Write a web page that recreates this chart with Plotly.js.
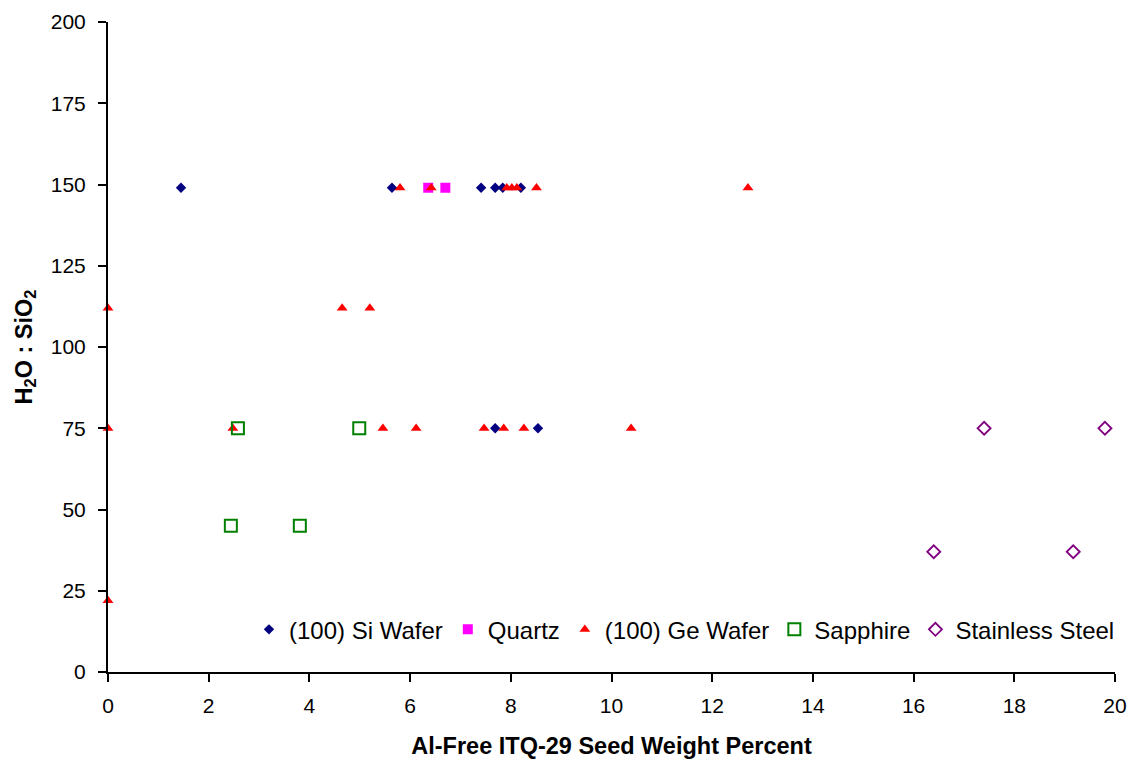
<!DOCTYPE html>
<html>
<head>
<meta charset="utf-8">
<script src="https://cdn.plot.ly/plotly-3.0.1.min.js"></script>
<style>html,body{margin:0;padding:0;background:#fff;}#chart{width:1134px;height:763px;}</style>
</head>
<body>
<div id="chart"></div>
<script>
const siX = [1.45, 5.64, 7.41, 7.69, 7.84, 8.20, 7.69, 8.54];
const siY = [149, 149, 149, 149, 149, 149, 75, 75];

const quartzX = [6.36, 6.70];
const quartzY = [149, 149];

const geX = [5.80, 6.42, 7.92, 8.02, 8.12, 8.51, 12.71, 0, 4.65, 5.20, 0, 2.48, 5.46, 6.12, 7.47, 7.86, 8.26, 10.39, 0];
const geY = [149, 149, 149, 149, 149, 149, 149, 112, 112, 112, 75, 75, 75, 75, 75, 75, 75, 75, 22];

const sapphireX = [2.58, 4.99, 2.44, 3.81];
const sapphireY = [75, 75, 45, 45];

const steelX = [17.40, 19.80, 16.40, 19.17];
const steelY = [75, 75, 37, 37];

const xTicks = [0, 2, 4, 6, 8, 10, 12, 14, 16, 18, 20];
const yTicks = [0, 25, 50, 75, 100, 125, 150, 175, 200];

const traces = [
  {name: '(100) Si Wafer', x: siX, y: siY, type: 'scatter', mode: 'markers', cliponaxis: false,
   marker: {symbol: 'diamond', size: 8, color: '#000080'}},
  {name: 'Quartz', x: quartzX, y: quartzY, type: 'scatter', mode: 'markers', cliponaxis: false,
   marker: {symbol: 'square', size: 10, color: '#FF00FF'}},
  {name: '(100) Ge Wafer', x: geX, y: geY, type: 'scatter', mode: 'markers', cliponaxis: false,
   marker: {symbol: 'triangle-up', size: 9.5, color: '#FF0000'}},
  {name: 'Sapphire', x: sapphireX, y: sapphireY, type: 'scatter', mode: 'markers', cliponaxis: false,
   marker: {symbol: 'square-open', size: 12, color: '#008000', line: {width: 2}}},
  {name: 'Stainless Steel', x: steelX, y: steelY, type: 'scatter', mode: 'markers', cliponaxis: false,
   marker: {symbol: 'diamond-open', size: 10, color: '#800080', line: {width: 1.8}}}
];

const layout = {
  width: 1134, height: 763,
  margin: {l: 108, r: 19, t: 22, b: 91},
  paper_bgcolor: '#fff', plot_bgcolor: '#fff',
  font: {family: 'Liberation Sans, Arial, sans-serif', color: '#000', size: 22},
  showlegend: true,
  legend: {orientation: 'h', x: 0.14, y: 0.065, xanchor: 'left', yanchor: 'middle',
           font: {size: 24, family: 'Liberation Sans, Arial, sans-serif'}, bgcolor: 'rgba(0,0,0,0)'},
  xaxis: {range: [0, 20], tickvals: xTicks, ticktext: xTicks.map(String), showgrid: false, zeroline: false,
          showline: true, linecolor: '#000', linewidth: 2, ticks: 'outside', ticklen: 8, tickwidth: 2, tickcolor: '#000',
          tickfont: {size: 21}, ticklabelstandoff: 6,
          title: {text: '<b>Al-Free ITQ-29 Seed Weight Percent</b>', font: {size: 23.5}, standoff: 21}},
  yaxis: {range: [0, 200], tickvals: yTicks, ticktext: yTicks.map(String), showgrid: false, zeroline: false,
          showline: true, linecolor: '#000', linewidth: 2, ticks: 'outside', ticklen: 8, tickwidth: 2, tickcolor: '#000',
          tickfont: {size: 21}, ticklabelstandoff: 8,
          title: {text: '<b>H<sub>2</sub>O : SiO<sub>2</sub></b>', font: {size: 23.5}, standoff: 12}}
};

Plotly.newPlot('chart', traces, layout, {displayModeBar: false, staticPlot: true});
</script>
</body>
</html>
